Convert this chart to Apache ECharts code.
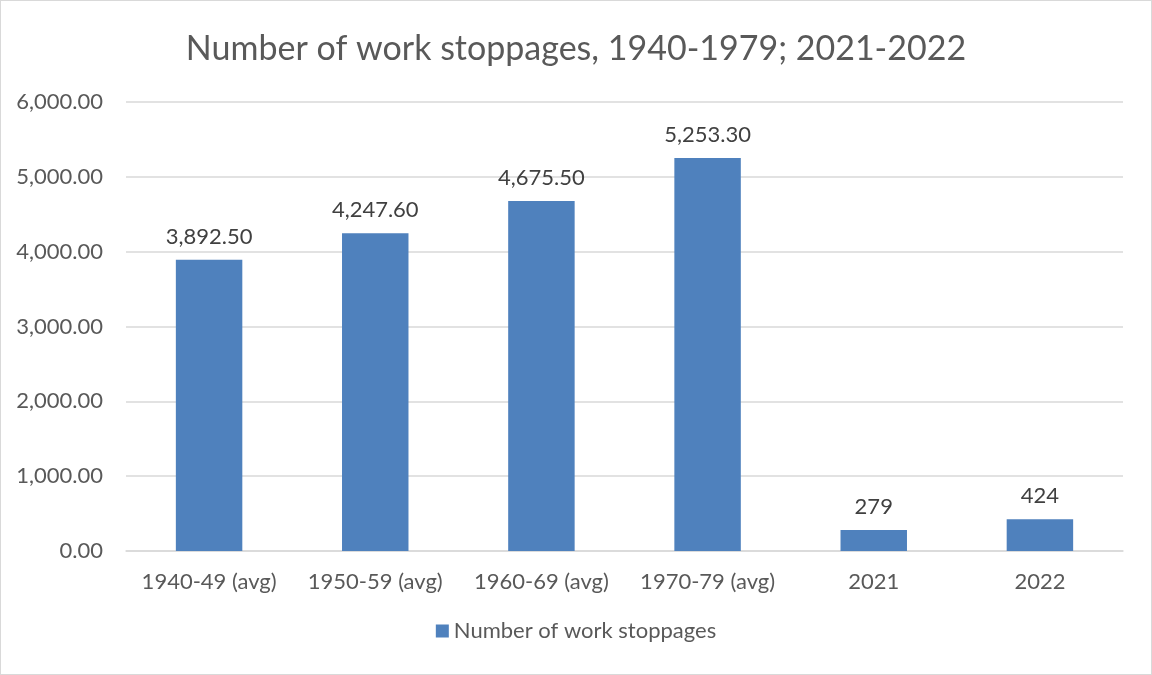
<!DOCTYPE html>
<html>
<head>
<meta charset="utf-8">
<script src="https://cdn.jsdelivr.net/npm/echarts@6/dist/echarts.min.js"></script>
<style>
  html, body { margin: 0; padding: 0; background: #fff; }
  #chart { position: absolute; left: 0; top: 0; width: 1150px; height: 673px; border: 1px solid #d9d9d9; }
</style>
</head>
<body>
<div id="chart"></div>
<script>
// Work stoppages: decade averages and recent years
const categories = ['1940-49 (avg)', '1950-59 (avg)', '1960-69 (avg)', '1970-79 (avg)', '2021', '2022'];
const stoppages = [3892.5, 4247.6, 4675.5, 5253.3, 279, 424];
const seriesName = 'Number of work stoppages';
const titleText = 'Number of work stoppages, 1940-1979; 2021-2022';

const FONT = 'Lato, "Open Sans", sans-serif';

function fmtAxis(v) {
  return v.toLocaleString('en-US', { minimumFractionDigits: 2, maximumFractionDigits: 2 });
}
function fmtLabel(v) {
  if (Number.isInteger(v)) return String(v);
  return v.toLocaleString('en-US', { minimumFractionDigits: 2, maximumFractionDigits: 2 });
}

const chart = echarts.init(document.getElementById('chart'));
chart.setOption({
  animation: false,
  title: {
    text: titleText,
    left: 'center',
    top: 26,
    textStyle: { fontFamily: FONT, fontSize: 34, fontWeight: 'normal', color: '#595959' }
  },
  legend: {
    bottom: 27,
    left: 'center',
    itemWidth: 13,
    itemHeight: 13,
    itemGap: 6,
    icon: 'rect',
    textStyle: { fontFamily: FONT, fontSize: 22, color: '#595959' },
    data: [seriesName]
  },
  grid: { left: 125, right: 28, top: 101, bottom: 123 },
  xAxis: {
    type: 'category',
    data: categories,
    axisLine: { show: true, lineStyle: { color: '#d9d9d9', width: 1.5 } },
    axisTick: { show: false },
    axisLabel: { interval: 0, hideOverlap: false, fontFamily: FONT, fontSize: 22, color: '#595959', margin: 20 }
  },
  yAxis: {
    type: 'value',
    min: 0,
    max: 6000,
    interval: 1000,
    axisLine: { show: false },
    axisTick: { show: false },
    splitLine: { lineStyle: { color: '#d9d9d9', width: 1.5 } },
    axisLabel: { fontFamily: FONT, fontSize: 22, color: '#595959', margin: 23, formatter: fmtAxis }
  },
  series: [{
    name: seriesName,
    type: 'bar',
    data: stoppages,
    barWidth: '40%',
    itemStyle: { color: '#4f81bd' },
    label: {
      show: true,
      position: 'top',
      distance: 12,
      fontFamily: FONT,
      fontSize: 22,
      color: '#404040',
      formatter: p => fmtLabel(p.value)
    }
  }]
});
</script>
</body>
</html>
